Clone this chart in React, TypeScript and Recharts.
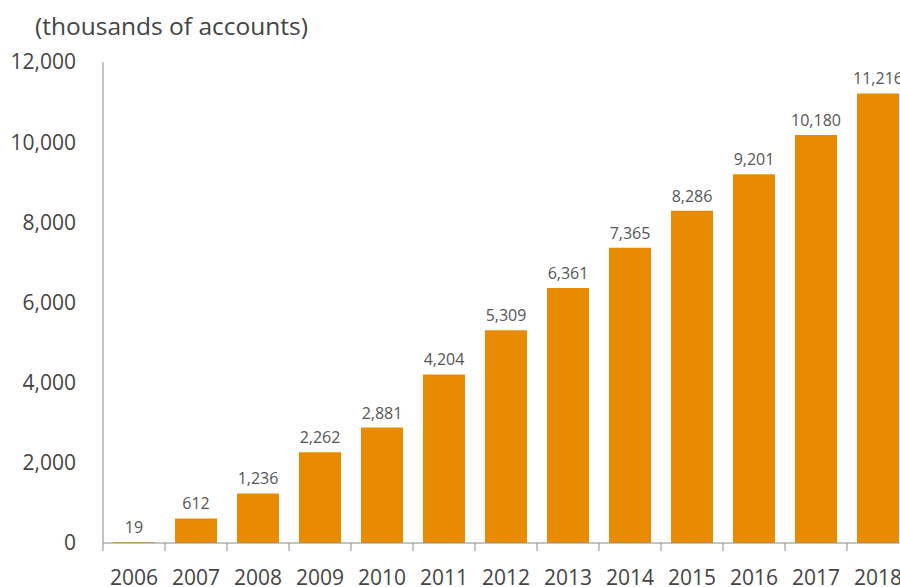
import { Bar, BarChart, LabelList, XAxis, YAxis } from "recharts";

const years = ["2006", "2007", "2008", "2009", "2010", "2011", "2012", "2013", "2014", "2015", "2016", "2017", "2018"];
const accounts = [19, 612, 1236, 2262, 2881, 4204, 5309, 6361, 7365, 8286, 9201, 10180, 11216];
const yTicks = [0, 2000, 4000, 6000, 8000, 10000, 12000];

const data = years.map((year, i) => ({ year, accounts: accounts[i] }));

const FONT = "'Open Sans', 'Noto Sans', sans-serif";
const TEXT = "#444";
const AXIS = "#8a8a8a";
const BAND_HALF = 31;

function YearTick({ x, y, payload }: any) {
  return (
    <g>
      <line x1={x - BAND_HALF} y1={y} x2={x - BAND_HALF} y2={y + 8} stroke={AXIS} strokeWidth={1} />
      <text x={x} y={y + 34} textAnchor="middle" dominantBaseline="central" fill={TEXT} fontSize={21} fontFamily={FONT}>
        {payload.value}
      </text>
    </g>
  );
}

export default function App() {
  return (
    <div style={{ position: "fixed", inset: 0, overflow: "hidden", background: "#fff" }}>
      <div
        style={{
          position: "absolute",
          left: 35,
          top: 10,
          fontFamily: FONT,
          fontSize: 24.5,
          color: TEXT,
          whiteSpace: "nowrap",
          lineHeight: "32px",
        }}
      >
        (thousands of accounts)
      </div>
      <BarChart
        width={920}
        height={587}
        data={data}
        margin={{ top: 62, right: 11, bottom: 0, left: 0 }}
        barSize={42}
      >
        <YAxis
          width={103}
          domain={[0, 12000]}
          ticks={yTicks}
          interval={0}
          tickFormatter={(v: number) => v.toLocaleString("en-US")}
          tick={{ fill: TEXT, fontSize: 21, fontFamily: FONT }}
          tickLine={false}
          tickSize={0}
          tickMargin={27}
          axisLine={{ stroke: AXIS }}
        />
        <XAxis
          dataKey="year"
          height={44}
          interval={0}
          tick={<YearTick />}
          tickLine={false}
          tickSize={0}
          tickMargin={0}
          axisLine={{ stroke: AXIS }}
        />
        <Bar dataKey="accounts" fill="#E88B00" isAnimationActive={false}>
          <LabelList
            dataKey="accounts"
            position="top"
            offset={9}
            formatter={(v: number) => v.toLocaleString("en-US")}
            fill="#555"
            fontSize={16}
            fontFamily={FONT}
          />
        </Bar>
      </BarChart>
    </div>
  );
}
